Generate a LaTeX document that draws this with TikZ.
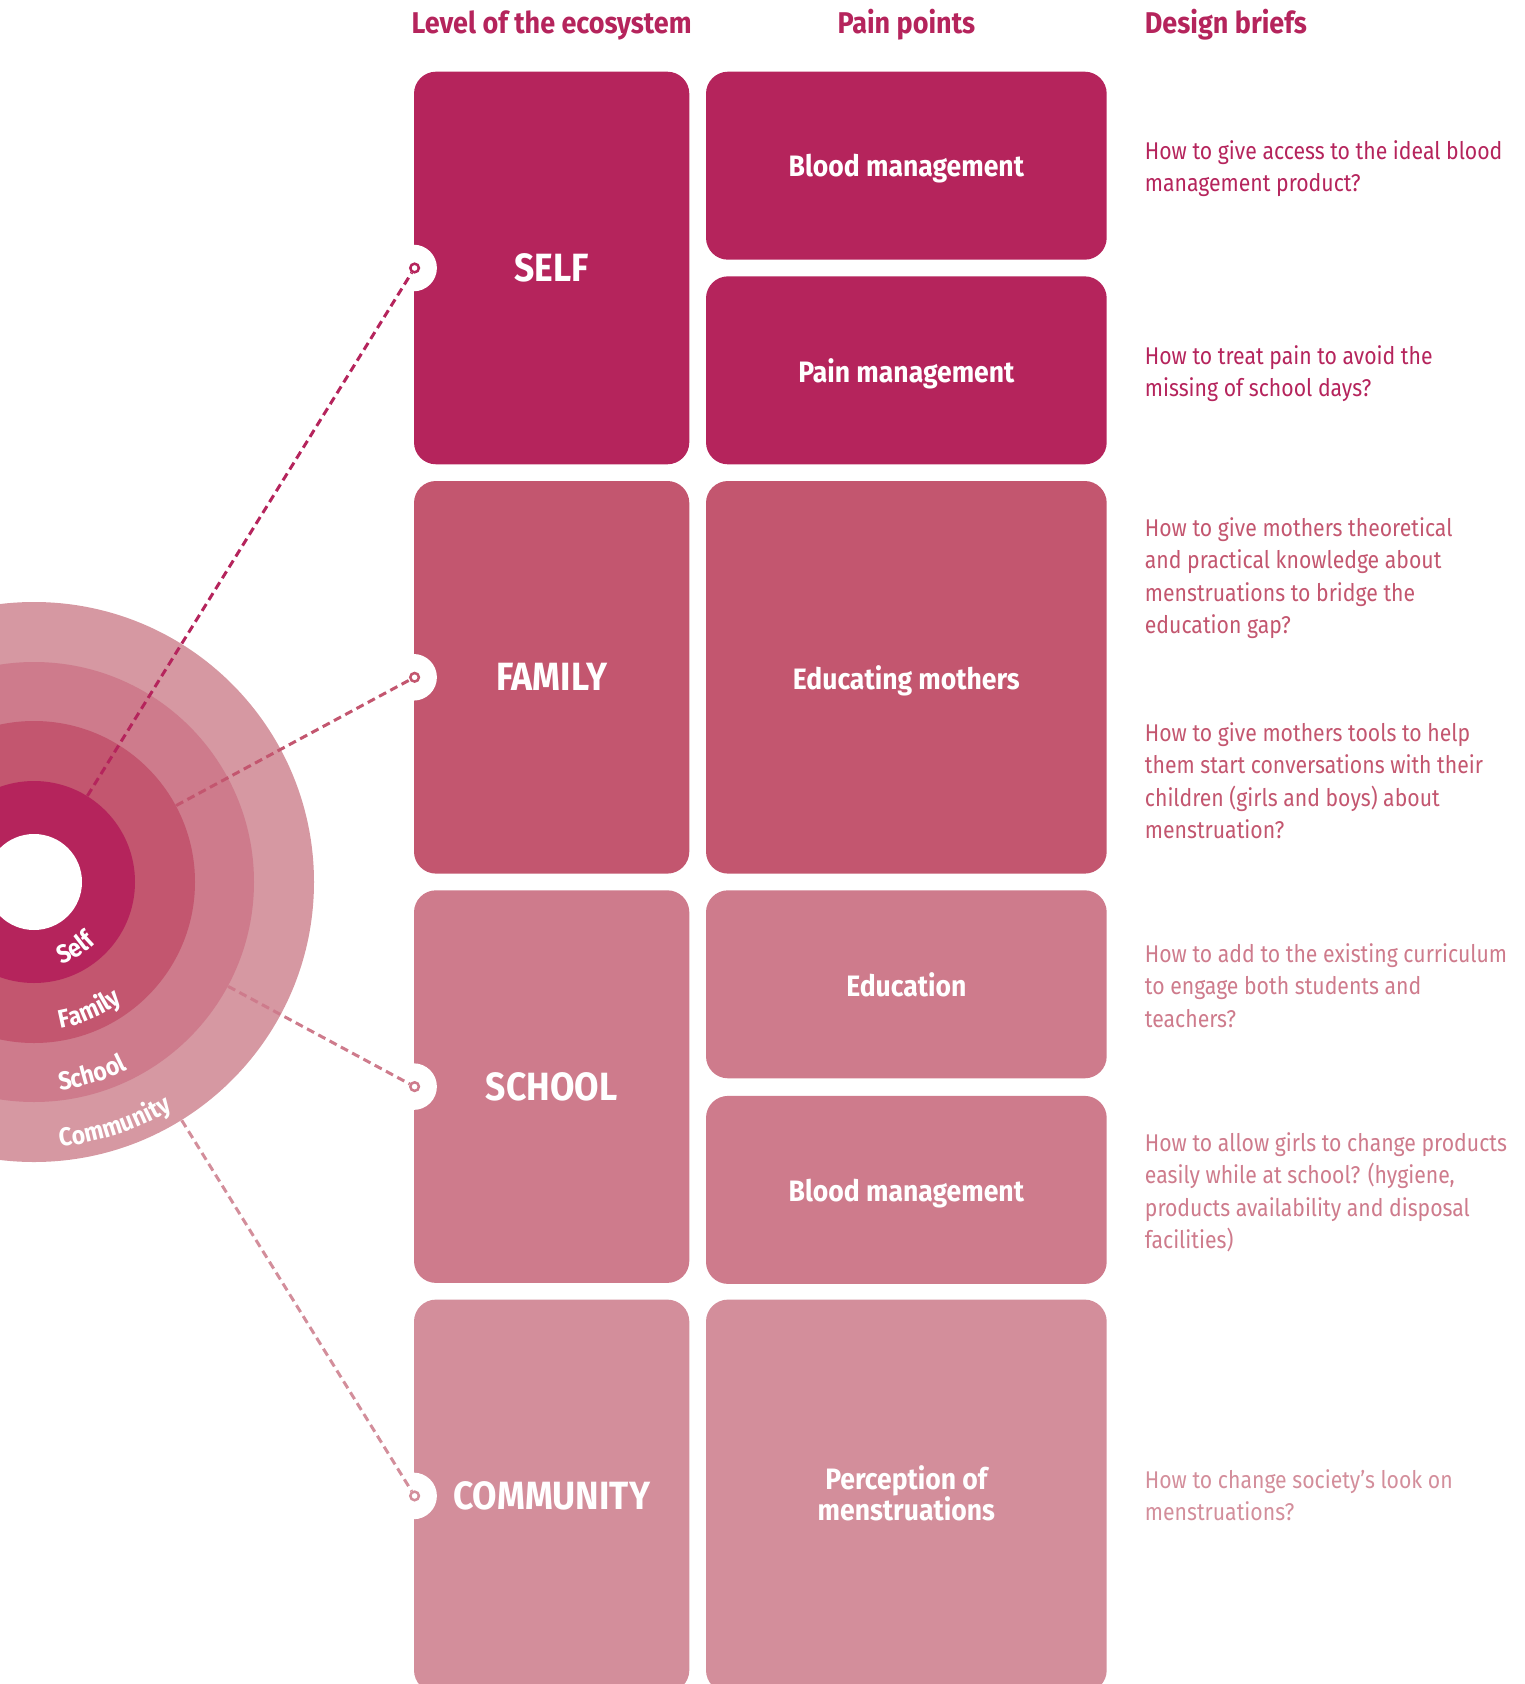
\documentclass[tikz,border=0pt]{standalone}
\usepackage{fontspec}
\setmainfont{Fira Sans}
\newfontfamily\dinfont[FakeStretch=0.877]{Fira Sans}
\newfontfamily\dinbold[FakeStretch=0.9]{Fira Sans}
\usetikzlibrary{calc,positioning,decorations.text}
\definecolor{selfc}{HTML}{B5245C}
\definecolor{famc}{HTML}{C3566F}
\definecolor{schc}{HTML}{CE7B8C}
\definecolor{comc}{HTML}{D38E9B}
\definecolor{comring}{HTML}{D698A2}
\newcommand\ringfont{\dinbold\bfseries\fontsize{12.8}{14}\selectfont}
\tikzset{
  ring/.style={circle, inner sep=0pt, fill=#1},
  ringtext/.style={decorate, decoration={text along path, text color=white, text={|\ringfont|#1}}},
  lvlbox/.style={rectangle, rounded corners=11pt, inner sep=0pt, minimum width=137.65pt, minimum height=196.3pt, fill=#1, text=white, font=\dinbold\bfseries\fontsize{19.7}{23}\selectfont},
  fullbox/.style={rectangle, rounded corners=11pt, inner sep=0pt, minimum width=200.35pt, minimum height=196.3pt, fill=#1, text=white, font=\dinbold\bfseries\fontsize{14.75}{15.5}\selectfont},
  halfbox/.style={fullbox=#1, minimum height=94pt},
  notch/.style={circle, fill=white, inner sep=0pt, minimum size=23.3pt},
  marker/.style={circle, draw=#1, fill=white, line width=1.25pt, inner sep=0pt, minimum size=4.3pt},
  link/.style={draw=#1, line width=1.5pt, dash pattern=on 4pt off 2.4pt},
  head/.style={inner sep=0pt, anchor=base, text=selfc, font=\dinbold\bfseries\fontsize{15}{18}\selectfont},
  brief/.style={inner sep=0pt, anchor=north west, align=left, text=#1, font=\dinfont\fontsize{12.1}{16.2}\selectfont}
}
\begin{document}
\begin{tikzpicture}[x=0.5pt,y=0.5pt]
\useasboundingbox (0,0) rectangle (1524,-1684);
\clip (0,0) rectangle (1524,-1684);
\coordinate (c) at (34,-882);
\node[ring=comring, minimum size=280pt] (rCom) at (c) {};
\node[ring=schc, minimum size=220pt] (rSch) at (c) {};
\node[ring=famc, minimum size=161pt] (rFam) at (c) {};
\node[ring=selfc, minimum size=101pt] (rSelf) at (c) {};
\node[ring=white, minimum size=48pt] (hole) at (c) {};
\path[ringtext=Self] ([shift={(-71.5:43.5pt)}]c) arc[start angle=-71.5, end angle=10, radius=43.5pt];
\path[ringtext=Family] ([shift={(-79.9:74.3pt)}]c) arc[start angle=-79.9, end angle=0, radius=74.3pt];
\path[ringtext=School] ([shift={(-82.9:104.8pt)}]c) arc[start angle=-82.9, end angle=0, radius=104.8pt];
\path[ringtext=Community] ([shift={(-84.4:133pt)}]c) arc[start angle=-84.4, end angle=0, radius=133pt];

\node[head] (hLevel) at (551.65,-33.3) {Level of the ecosystem};
\node[head] (hPain) at (906.35,-33.3) {Pain points};
\node[head, anchor=base west] (hBrief) at (1144.5,-33.3) {Design briefs};

\node[lvlbox=selfc] (self) at (551.65,-268) {SELF};
\node[lvlbox=famc] (family) at (551.65,-677.3) {FAMILY};
\node[lvlbox=schc] (school) at (551.65,-1086.6) {SCHOOL};
\node[lvlbox=comc] (community) at (551.65,-1495.9) {COMMUNITY};
\node[halfbox=selfc, text depth=0pt] (blood) at (906.35,-165.7) {Blood management};
\node[halfbox=selfc, text depth=0pt] (pain) at (906.35,-370.35) {Pain management};
\node[fullbox=famc, text depth=0pt] (mothers) at (906.35,-677.3) {Educating mothers};
\node[halfbox=schc, text depth=0pt] (education) at (906.35,-984.3) {Education};
\node[halfbox=schc, text depth=0pt] (bloodsch) at (906.35,-1189.9) {Blood management};
\node[fullbox=comc] (perception) at (906.35,-1495.9) {};
\node[align=center, text=white, font=\dinbold\bfseries\fontsize{14.75}{15.5}\selectfont] (perceptionlbl) at (906.35,-1493.6) {Perception of\\menstruations};

\foreach \b in {self,family,school,community}
  \node[notch] at (\b.west) {};
\node[marker=selfc] (mSelf) at ($(self.west)+(1,0)$) {};
\node[marker=famc] (mFam) at ($(family.west)+(1,0)$) {};
\node[marker=schc] (mSch) at ($(school.west)+(1,0)$) {};
\node[marker=comc] (mCom) at ($(community.west)+(1,0)$) {};
\draw[link=selfc] (rSelf) -- (mSelf);
\draw[link=famc] (rFam) -- (mFam);
\draw[link=schc] (rSch) -- (mSch);
\draw[link=comc] (rCom) -- (mCom);

\node[brief=selfc] (b1) at (1144.5,-140) {How to give access to the ideal blood\\management product?};
\node[brief=selfc] (b2) at (1144.5,-345) {How to treat pain to avoid the\\missing of school days?};
\node[brief=famc] (b3) at (1144.5,-517) {How to give mothers theoretical\\and practical knowledge about\\menstruations to bridge the\\education gap?};
\node[brief=famc] (b4) at (1144.5,-722) {How to give mothers tools to help\\them start conversations with their\\children (girls and boys) about\\menstruation?};
\node[brief=schc] (b5) at (1144.5,-943.3) {How to add to the existing curriculum\\to engage both students and\\teachers?};
\node[brief=schc] (b6) at (1144.5,-1132.3) {How to allow girls to change products\\easily while at school? (hygiene,\\products availability and disposal\\facilities)};
\node[brief=comc] (b7) at (1144.5,-1469.3) {How to change society’s look on\\menstruations?};
\end{tikzpicture}
\end{document}
